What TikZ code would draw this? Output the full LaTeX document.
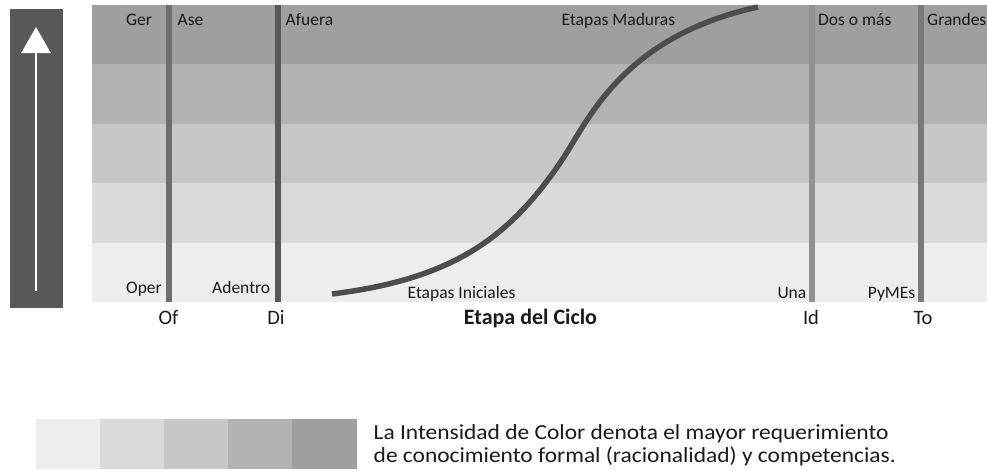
\documentclass[tikz,border=0pt]{standalone}
\usepackage{fontspec}
\setmainfont{Carlito}
\newfontfamily\legfont[FakeStretch=1.09]{Carlito}
\usetikzlibrary{arrows.meta}
\definecolor{bandA}{HTML}{9E9FA1}
\definecolor{bandB}{HTML}{B1B2B4}
\definecolor{bandC}{HTML}{C6C7C9}
\definecolor{bandD}{HTML}{D9DADC}
\definecolor{bandE}{HTML}{ECEDEC}
\definecolor{darkbar}{HTML}{58585A}
\definecolor{lineOf}{HTML}{6D6E70}
\definecolor{lineDi}{HTML}{58585A}
\definecolor{lineId}{HTML}{909193}
\definecolor{lineTo}{HTML}{79797B}
\definecolor{curvec}{HTML}{4D4D4F}
\definecolor{txt}{HTML}{1A1A1A}
\begin{document}
\begin{tikzpicture}[x=1pt,y=-1pt,
  lbl/.style={inner sep=0pt, text=txt, font=\fontsize{17.5}{20}\selectfont},
  axl/.style={inner sep=0pt, text=txt, font=\fontsize{20.5}{23}\selectfont},
  axb/.style={inner sep=0pt, text=txt, font=\fontsize{22}{24}\selectfont\bfseries},
  legt/.style={inner sep=0pt, text=txt, font=\legfont\fontsize{21.5}{24}\selectfont},
  vline/.style={line width=5.7pt}]
\useasboundingbox (0,0) rectangle (987,469);
% bands
\fill[bandA] (92,5) rectangle (987,64.4);
\fill[bandB] (92,64.4) rectangle (987,123.8);
\fill[bandC] (92,123.8) rectangle (987,183.2);
\fill[bandD] (92,183.2) rectangle (987,242.6);
\fill[bandE] (92,242.6) rectangle (987,302);
% left bar with arrow
\fill[darkbar] (10,9) rectangle (63,308);
\coordinate (arrowbot) at (36,291);
\coordinate (arrowtop) at (36,27);
\draw[white, line width=2.7pt, -{Triangle[width=29pt,length=26pt]}] (arrowbot) -- (arrowtop);
% vertical lines
\coordinate (ofT) at (169,5);   \coordinate (ofB) at (169,302);
\coordinate (diT) at (278,5);   \coordinate (diB) at (278,302);
\coordinate (idT) at (812,5);   \coordinate (idB) at (812,302);
\coordinate (toT) at (921,5);   \coordinate (toB) at (921,302);
\draw[vline, lineOf] (ofT) -- (ofB);
\draw[vline, lineDi] (diT) -- (diB);
\draw[vline, lineId] (idT) -- (idB);
\draw[vline, lineTo] (toT) -- (toB);
% S-curve
\coordinate (cstart) at (332,294);
\coordinate (cmid) at (562,160);
\coordinate (cend) at (758,7);
\draw[curvec, line width=5.5pt] (cstart) .. controls (452,279) and (508.8,238.9) .. (cmid)
  .. controls (587.2,122.65) and (621.2,36.7) .. (cend);
% top labels
\node[lbl, anchor=base west] (ger) at (126,25) {Ger};
\node[lbl, anchor=base west] (ase) at (177.5,25) {Ase};
\node[lbl, anchor=base west] (afuera) at (285.5,25) {Afuera};
\node[lbl, anchor=base west] (maduras) at (561.5,25) {Etapas Maduras};
\node[lbl, anchor=base west] (dosomas) at (818,25) {Dos o más};
\node[lbl, anchor=base west] (grandes) at (927,25) {Grandes};
% bottom labels
\node[lbl, anchor=base west] (oper) at (126,293) {Oper};
\node[lbl, anchor=base west] (adentro) at (212,293) {Adentro};
\node[lbl, anchor=base west] (iniciales) at (407.5,298) {Etapas Iniciales};
\node[lbl, anchor=base east] (una) at (806.5,298) {Una};
\node[lbl, anchor=base east] (pymes) at (915.5,298) {PyMEs};
% axis labels
\node[axl, anchor=base] (of) at (168.5,324) {Of};
\node[axl, anchor=base] (di) at (276,324) {Di};
\node[axb, anchor=base] (ciclo) at (530.5,324) {Etapa del Ciclo};
\node[axl, anchor=base] (id) at (811,324) {Id};
\node[axl, anchor=base] (to) at (923,324) {To};
% legend
\fill[bandE] (36,419) rectangle (100,469);
\fill[bandD] (100,419) rectangle (164,469);
\fill[bandC] (164,419) rectangle (228,469);
\fill[bandB] (228,419) rectangle (292,469);
\fill[bandA] (292,419) rectangle (356.7,469);
\node[legt, anchor=base west] (leg1) at (373.5,439) {La Intensidad de Color denota el mayor requerimiento};
\node[legt, anchor=base west] (leg2) at (373.5,462.5) {de conocimiento formal (racionalidad) y competencias.};
\end{tikzpicture}
\end{document}
